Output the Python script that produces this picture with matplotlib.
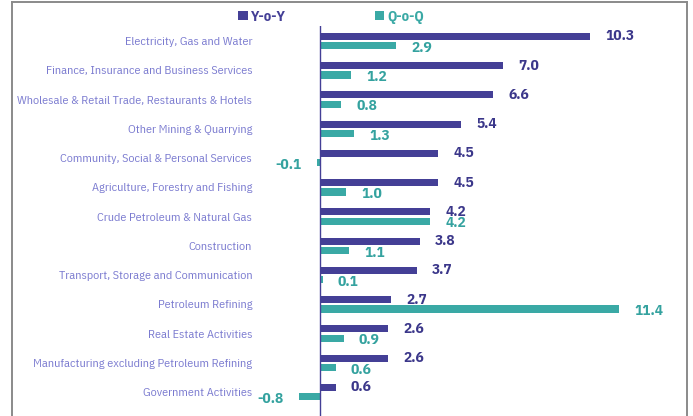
import matplotlib
matplotlib.use("Agg")
import matplotlib.pyplot as plt
from matplotlib.lines import Line2D
import numpy as np

plt.rcParams['font.family'] = ['IBM Plex Sans Condensed', 'DejaVu Sans']

categories = ['Electricity, Gas and Water',
              'Finance, Insurance and Business Services',
              'Wholesale & Retail Trade, Restaurants & Hotels',
              'Other Mining & Quarrying',
              'Community, Social & Personal Services',
              'Agriculture, Forestry and Fishing',
              'Crude Petroleum & Natural Gas',
              'Construction',
              'Transport, Storage and Communication',
              'Petroleum Refining',
              'Real Estate Activities',
              'Manufacturing excluding Petroleum Refining',
              'Government Activities']
yoy = [10.3, 7.0, 6.6, 5.4, 4.5, 4.5, 4.2, 3.8, 3.7, 2.7, 2.6, 2.6, 0.6]
qoq = [2.9, 1.2, 0.8, 1.3, -0.1, 1.0, 4.2, 1.1, 0.1, 11.4, 0.9, 0.6, -0.8]
series_names = ['Y-o-Y', 'Q-o-Q']

navy = '#443f96'
teal = '#3aa9a5'
label_col = '#7b7bd0'

W, H = 693, 416
fig = plt.figure(figsize=(W / 100, H / 100), dpi=100)

# axes placed in pixels: zero at x=320, 26.2 px per unit
x_lo, x_hi = -1.9, 13.7
ax_left = 320 + x_lo * 26.2
ax_w = (x_hi - x_lo) * 26.2
ax_top = 26
ax = fig.add_axes([ax_left / W, 0, ax_w / W, (H - ax_top) / H])

pos = np.arange(len(categories))
bh = 0.24
off = 0.162
b1 = ax.barh(pos - off, yoy, height=bh, color=navy, label=series_names[0])
b2 = ax.barh(pos + off, qoq, height=bh, color=teal, label=series_names[1])

ax.set_xlim(x_lo, x_hi)
ax.set_ylim(len(categories) - 1 + 0.82, -0.513)
ax.axvline(0, color=navy, lw=1.0)

for s in ax.spines.values():
    s.set_visible(False)
ax.set_xticks([])
ax.set_yticks(pos)
ax.set_yticklabels(categories, fontsize=8.7, color=label_col)
ax.tick_params(axis='y', length=0, pad=13)

for y, v in zip(pos - off, yoy):
    ax.annotate('%.1f' % v, xy=(v, y), xytext=(11 if v >= 0 else -11, 0),
                textcoords='offset points', ha='left' if v >= 0 else 'right',
                va='center', fontsize=11, fontweight='bold', color='#3b378a')
for y, v in zip(pos + off, qoq):
    ax.annotate('%.1f' % v, xy=(v, y), xytext=(11 if v >= 0 else -11, -1.5),
                textcoords='offset points', ha='left' if v >= 0 else 'right',
                va='center', fontsize=11, fontweight='bold', color='#34a29f')

leg = fig.legend(handles=[b1, b2], loc='lower left',
                 bbox_to_anchor=(231 / W, 1 - 31 / H), ncol=2, frameon=False,
                 fontsize=10.5, handlelength=0.65, handleheight=0.65,
                 handletextpad=0.2, columnspacing=6.1, borderpad=0,
                 labelcolor=[navy, teal])
for t in leg.get_texts():
    t.set_fontweight('bold')

# outer frame (top, left, right)
fx0, fx1, fy1 = 12.5 / W, 687 / W, 1 - 2 / H
for xs, ys in [([fx0, fx0], [0, fy1]), ([fx1, fx1], [0, fy1]), ([fx0, fx1], [fy1, fy1])]:
    fig.add_artist(Line2D(xs, ys, transform=fig.transFigure, color='#8a8a8a', lw=1.4))

fig.savefig('out.png', dpi=100)
